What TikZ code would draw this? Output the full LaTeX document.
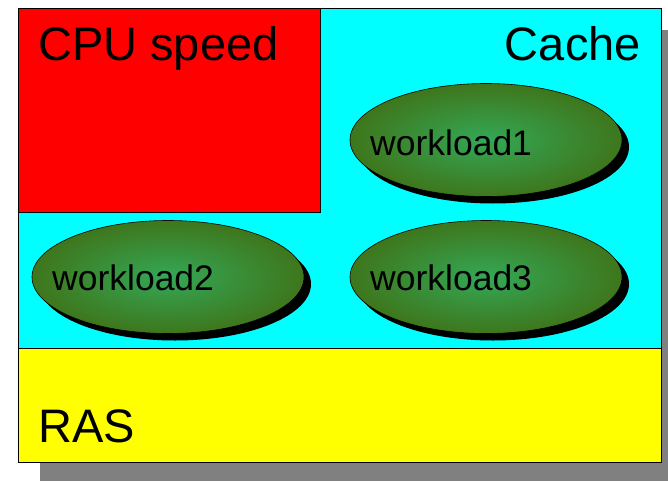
\documentclass[tikz,border=0pt]{standalone}
\usepackage{fontspec}
\setmainfont{Liberation Sans}
\usetikzlibrary{shapes.geometric}

\definecolor{boxgray}{RGB}{128,128,128}
\definecolor{cachecyan}{RGB}{0,255,255}
\definecolor{cpured}{RGB}{255,0,0}
\definecolor{rasyellow}{RGB}{255,255,0}
\definecolor{wlinner}{RGB}{52,168,86}
\definecolor{wlouter}{RGB}{62,118,28}

\tikzset{
  area/.style={draw=black,line width=0.8pt},
  big/.style={font=\fontsize{47}{56}\selectfont,inner sep=0pt},
  wl/.style={ellipse,draw=black,line width=0.6pt,minimum width=272pt,minimum height=113pt,inner sep=0pt,
    shading=radial,inner color=wlinner,outer color=wlouter},
  wlshadow/.style={ellipse,fill=black,minimum width=272pt,minimum height=113pt,inner sep=0pt},
  wltext/.style={font=\fontsize{35.5}{42}\selectfont,inner sep=0pt,anchor=base west}
}

\begin{document}
\begin{tikzpicture}[x=1pt,y=-1pt]
\useasboundingbox (0,0) rectangle (668,481);

\fill[boxgray] (40,30) rectangle (668,481);
\fill[cachecyan,area] (18,8) rectangle (661,348);
\fill[cpured,area] (18,8) rectangle (320,212);
\fill[rasyellow,area] (18,348) rectangle (661,462);
\draw[line width=0.8pt] (18,8) rectangle (661,462);

\node[big,anchor=base west] (cpu) at (38,61) {CPU speed};
\node[big,anchor=base east] (cache) at (641,61) {Cache};
\node[big,anchor=base west] (ras) at (38,442) {RAS};

% workloads
\node[wlshadow] (w1s) at (493,147) {};
\node[wl] (w1) at (486,140) {};
\node[wltext] (w1t) at (370,155) {workload1};

\node[wlshadow] (w2s) at (175,284) {};
\node[wl] (w2) at (168,277) {};
\node[wltext] (w2t) at (52,290) {workload2};

\node[wlshadow] (w3s) at (493,284) {};
\node[wl] (w3) at (486,277) {};
\node[wltext] (w3t) at (370,290) {workload3};

\end{tikzpicture}
\end{document}
